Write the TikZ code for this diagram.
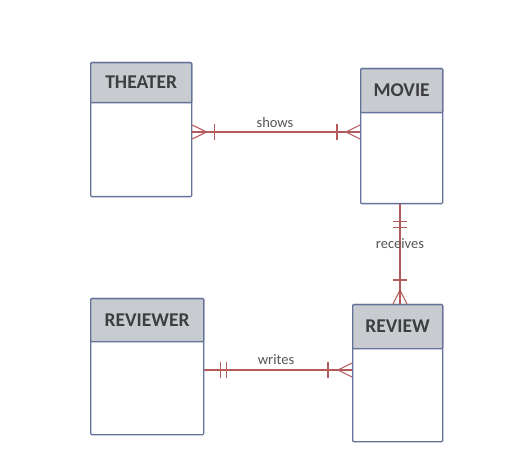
\documentclass[tikz,border=0pt]{standalone}
\usepackage{fontspec}
\setmainfont{Carlito}
\begin{document}
\begin{tikzpicture}[x=1pt,y=-1pt,
  box/.style={draw=boxc, line width=1.3pt, rounded corners=1pt, anchor=north west, inner sep=0pt},
  head/.style={box, fill=headc, text=txtc, font=\fontsize{19.5}{19.5}\selectfont\bfseries},
  rel/.style={draw=relc, line width=1.1pt},
  lab/.style={text=labc, font=\fontsize{14.5}{14.5}\selectfont, inner sep=0pt}]
\definecolor{boxc}{HTML}{65739A}
\definecolor{headc}{HTML}{C8CCD1}
\definecolor{txtc}{HTML}{3E3E3E}
\definecolor{labc}{HTML}{555555}
\definecolor{relc}{HTML}{B55A5C}
\useasboundingbox[fill=white] (0,0) rectangle (522,470);
% entities
\node[box, minimum width=101pt, minimum height=134pt] (theater) at (90,62) {};
\node[head, minimum width=101pt, minimum height=40pt] (theaterh) at (90,62) {THEATER};
\node[box, minimum width=82pt, minimum height=135pt] (movie) at (360,68) {};
\node[head, minimum width=82pt, minimum height=44pt] (movieh) at (360,68) {MOVIE};
\node[box, minimum width=113pt, minimum height=136pt] (reviewer) at (90,298) {};
\node[head, minimum width=113pt, minimum height=43pt] (reviewerh) at (90,298) {REVIEWER};
\node[box, minimum width=90pt, minimum height=137pt] (review) at (352,304) {};
\node[head, minimum width=90pt, minimum height=44pt] (reviewh) at (352,304) {REVIEW};
% connection points
\coordinate (sA) at (theater.east |- 0,132);
\coordinate (sB) at (movie.west |- 0,132);
\coordinate (rA) at (movie.south -| 400,0);
\coordinate (rB) at (review.north -| 400,0);
\coordinate (wA) at (reviewer.east |- 0,370);
\coordinate (wB) at (review.west |- 0,370);
% shows
\draw[rel] (sA) -- (sB);
\draw[rel] ([yshift=-7pt]sA) -- ([xshift=14pt]sA) -- ([yshift=7pt]sA);
\draw[rel] ([xshift=22pt,yshift=-8pt]sA) -- ([xshift=22pt,yshift=8pt]sA);
\draw[rel] ([yshift=-7pt]sB) -- ([xshift=-14pt]sB) -- ([yshift=7pt]sB);
\draw[rel] ([xshift=-23pt,yshift=-8pt]sB) -- ([xshift=-23pt,yshift=8pt]sB);
\node[lab] (shows) at (275,123) {shows};
% receives
\draw[rel] (rA) -- (rB);
\draw[rel] ([xshift=-7pt,yshift=-17pt]rA) -- ([xshift=7pt,yshift=-17pt]rA);
\draw[rel] ([xshift=-7pt,yshift=-23pt]rA) -- ([xshift=7pt,yshift=-23pt]rA);
\draw[rel] ([xshift=-7pt]rB) -- ([yshift=14pt]rB) -- ([xshift=7pt]rB);
\draw[rel] ([xshift=-7pt,yshift=24pt]rB) -- ([xshift=7pt,yshift=24pt]rB);
\node[lab] (receives) at (400,244) {receives};
% writes
\draw[rel] (wA) -- (wB);
\draw[rel] ([xshift=16pt,yshift=-8pt]wA) -- ([xshift=16pt,yshift=8pt]wA);
\draw[rel] ([xshift=22pt,yshift=-8pt]wA) -- ([xshift=22pt,yshift=8pt]wA);
\draw[rel] ([yshift=-7pt]wB) -- ([xshift=-14pt]wB) -- ([yshift=7pt]wB);
\draw[rel] ([xshift=-24pt,yshift=-8pt]wB) -- ([xshift=-24pt,yshift=8pt]wB);
\node[lab] (writes) at (276,360) {writes};
\end{tikzpicture}
\end{document}
